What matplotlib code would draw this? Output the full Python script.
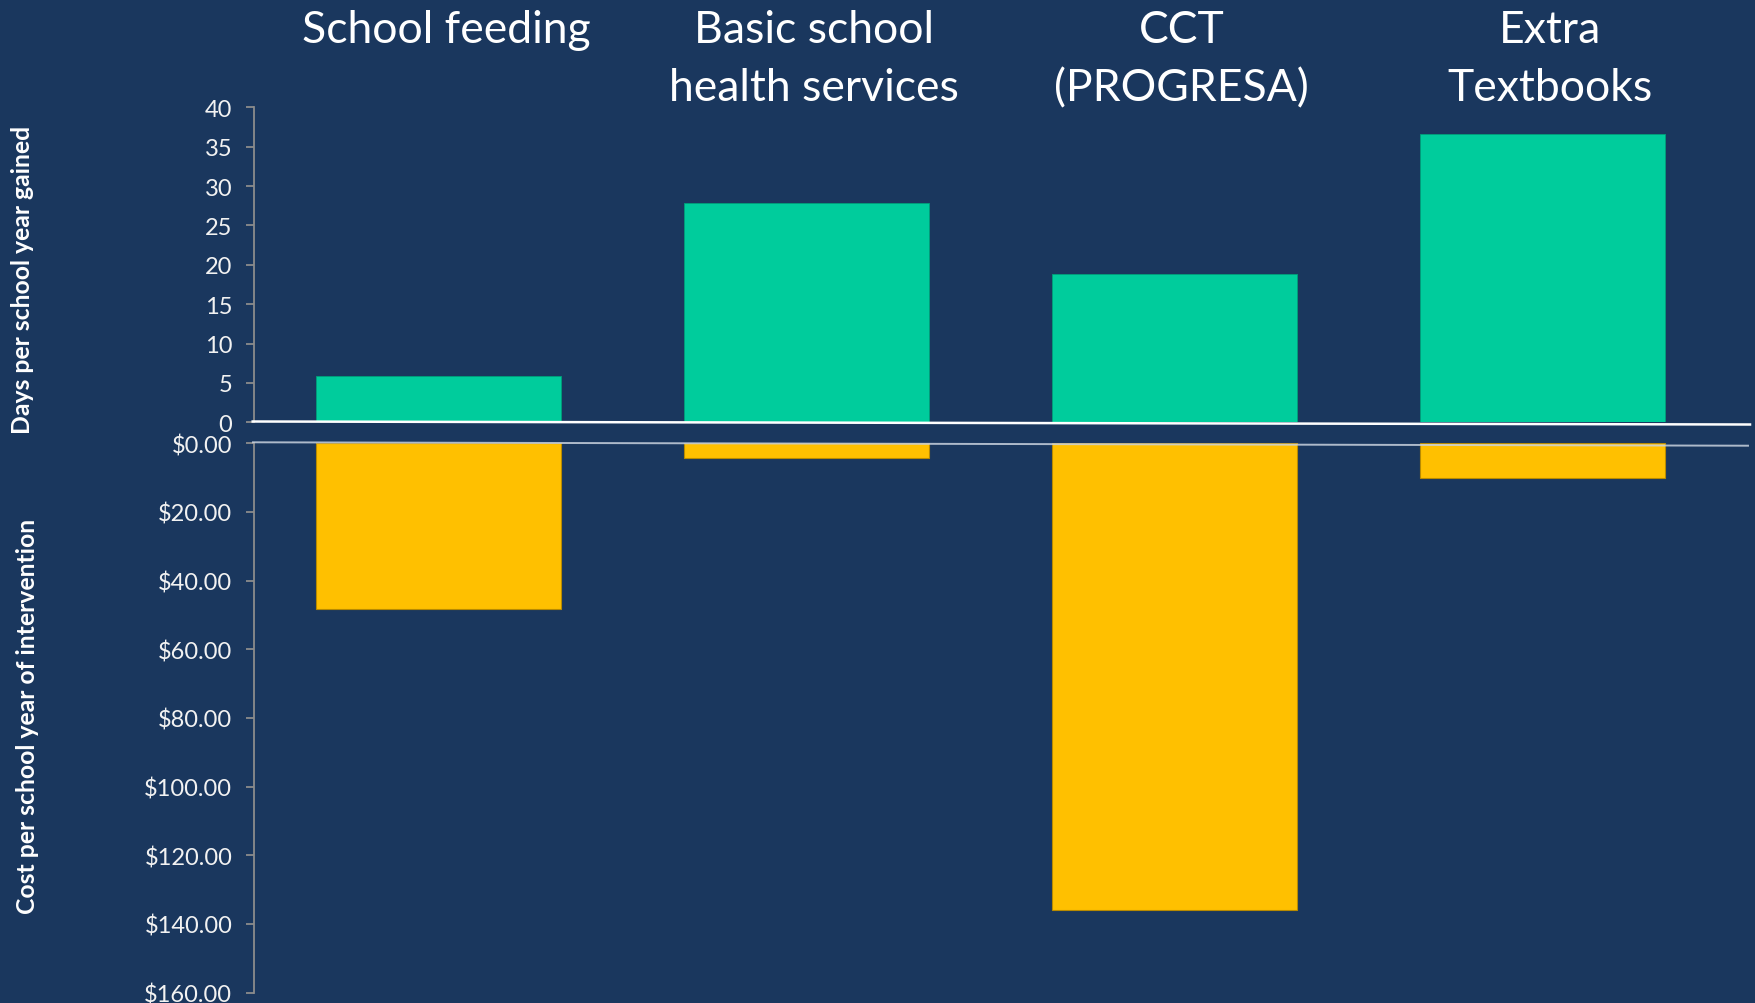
import matplotlib
matplotlib.use("Agg")
import matplotlib.pyplot as plt
from matplotlib.lines import Line2D
from matplotlib.transforms import blended_transform_factory

programs = ["School feeding", "Basic school\nhealth services", "CCT\n(PROGRESA)", "Extra\nTextbooks"]
days_gained = [5.9, 27.9, 18.8, 36.6]
cost_usd = [48.3, 4.2, 135.9, 10.2]

days_ticks = list(range(0, 41, 5))
cost_ticks = list(range(0, 161, 20))

bg = "#1a375e"
green = "#00cc9c"
yellow = "#ffc000"
grey = "#8c8c8c"
txt = "#f2f2f2"

plt.rcParams["font.family"] = ["Lato", "DejaVu Sans"]

W, H = 1756, 1004
fig = plt.figure(figsize=(W / 100, H / 100), dpi=100, facecolor=bg)


def fx(px):
    return px / W


def fy(px):
    return 1 - px / H


left, right = fx(254.5), fx(1726.5)
ax_top = fig.add_axes([left, fy(423.3), right - left, fy(108.3) - fy(423.3)])
ax_bot = fig.add_axes([left, fy(993.5), right - left, fy(444.2) - fy(993.5)])

x = list(range(len(programs)))
bw = 0.666

ax_top.bar(x, days_gained, width=bw, color=green, edgecolor="#00a07a", lw=0.6, zorder=2)
ax_bot.bar(x, cost_usd, width=bw, color=yellow, edgecolor="#b88a00", lw=0.8, zorder=2)

ax_top.set_ylim(0, 40)
ax_bot.set_ylim(160, 0)

ax_top.set_yticks(days_ticks)
ax_top.set_yticklabels([str(v) for v in days_ticks])
ax_bot.set_yticks(cost_ticks)
ax_bot.set_yticklabels([f"${v:.2f}" for v in cost_ticks])

for ax in (ax_top, ax_bot):
    ax.set_facecolor("none")
    ax.set_xlim(-0.5, len(programs) - 0.5)
    ax.set_xticks([])
    for side in ("top", "right", "bottom"):
        ax.spines[side].set_visible(False)
    ax.spines["left"].set_color(grey)
    ax.spines["left"].set_linewidth(1.3)
    ax.tick_params(axis="y", colors=grey, labelcolor=txt, labelsize=17,
                   length=6, width=1.3, pad=10)

# program names above each bar pair
tr = blended_transform_factory(ax_top.transData, fig.transFigure)
for i, name in enumerate(programs):
    for j, line in enumerate(name.split("\n")):
        ax_top.text(i + 0.02, fy(43 + j * 58), line, transform=tr,
                    ha="center", va="baseline", fontsize=32, color="white")

fig.text(fx(22.5), fy(280), "Days per school year gained", rotation=90,
         ha="center", va="center", fontsize=17.8, fontweight="bold", color="white")
fig.text(fx(28), fy(716), "Cost per school year of intervention", rotation=90,
         ha="center", va="center", fontsize=17.8, fontweight="bold", color="white")

# hand-drawn baselines across both panels
fig.add_artist(Line2D([fx(252.7), fx(1750)], [fy(422.5), fy(425.5)],
                      color="white", lw=1.8, zorder=5))
fig.add_artist(Line2D([fx(253), fx(1748)], [fy(443.3), fy(446.7)],
                      color="#c9d2de", lw=1.4, alpha=0.85, zorder=5))

fig.savefig("out.png", dpi=100, facecolor=bg)
